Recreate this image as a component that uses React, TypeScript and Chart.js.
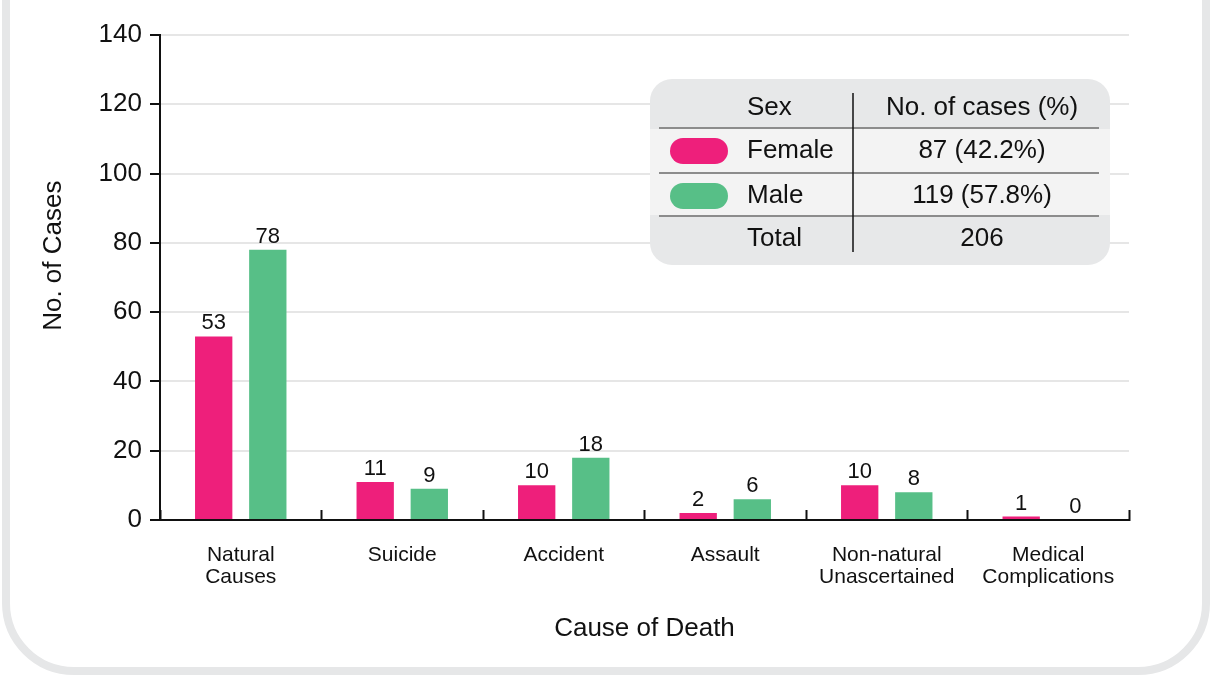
import React, { useEffect, useRef } from "react";
import { Chart, registerables } from "chart.js";

Chart.register(...registerables);

// Causes of death, cases split by sex
const categories: string[][] = [
  ["Natural", "Causes"],
  ["Suicide"],
  ["Accident"],
  ["Assault"],
  ["Non-natural", "Unascertained"],
  ["Medical", "Complications"],
];
const femaleCases = [53, 11, 10, 2, 10, 1];
const maleCases = [78, 9, 18, 6, 8, 0];
const seriesNames = ["Female", "Male"];
const seriesColors = ["#EE1F7B", "#57BF87"];
const yTickValues = [0, 20, 40, 60, 80, 100, 120, 140];

const FONT = '"Liberation Sans", Arial, Helvetica, sans-serif';
const INK = "#111111";

const sum = (a: number[]) => a.reduce((s, v) => s + v, 0);

// Numbers printed above each bar
const valueLabels = {
  id: "valueLabels",
  afterDatasetsDraw(chart: any) {
    const ctx = chart.ctx;
    ctx.save();
    ctx.font = `22px ${FONT}`;
    ctx.fillStyle = INK;
    ctx.textAlign = "center";
    ctx.textBaseline = "bottom";
    chart.data.datasets.forEach((ds: any, i: number) => {
      const meta = chart.getDatasetMeta(i);
      meta.data.forEach((bar: any, j: number) => {
        ctx.fillText(String(ds.data[j]), bar.x, bar.y - 2);
      });
    });
    ctx.restore();
  },
};

// Rotated y-axis title
const yTitle = {
  id: "yTitle",
  afterDraw(chart: any) {
    const { ctx, chartArea } = chart;
    ctx.save();
    ctx.font = `26px ${FONT}`;
    ctx.fillStyle = INK;
    ctx.textAlign = "center";
    ctx.textBaseline = "middle";
    ctx.translate(54, chartArea.top + (chartArea.bottom - chartArea.top) * 0.455);
    ctx.rotate(-Math.PI / 2);
    ctx.fillText("No. of Cases", 0, 0);
    ctx.restore();
  },
};

function roundRect(ctx: CanvasRenderingContext2D, x: number, y: number, w: number, h: number, r: number) {
  ctx.beginPath();
  ctx.moveTo(x + r, y);
  ctx.arcTo(x + w, y, x + w, y + h, r);
  ctx.arcTo(x + w, y + h, x, y + h, r);
  ctx.arcTo(x, y + h, x, y, r);
  ctx.arcTo(x, y, x + w, y, r);
  ctx.closePath();
}

// Summary table acting as the legend
const summaryTable = {
  id: "summaryTable",
  afterDraw(chart: any) {
    const ctx: CanvasRenderingContext2D = chart.ctx;
    const f = sum(femaleCases);
    const m = sum(maleCases);
    const total = f + m;
    const pct = (v: number) => ((v / total) * 100).toFixed(1);
    const rows = [
      { name: seriesNames[0], color: seriesColors[0], text: `${f} (${pct(f)}%)`, y: 151 },
      { name: seriesNames[1], color: seriesColors[1], text: `${m} (${pct(m)}%)`, y: 196 },
    ];

    ctx.save();
    roundRect(ctx, 650, 79, 460, 186, 22);
    ctx.fillStyle = "#E7E8E9";
    ctx.fill();

    ctx.fillStyle = "#F3F3F3";
    ctx.fillRect(650, 129, 460, 86);

    ctx.strokeStyle = "#8C8C8C";
    ctx.lineWidth = 2;
    [128, 173, 216].forEach((y) => {
      ctx.beginPath();
      ctx.moveTo(659, y);
      ctx.lineTo(1099, y);
      ctx.stroke();
    });

    ctx.strokeStyle = INK;
    ctx.lineWidth = 1.5;
    ctx.beginPath();
    ctx.moveTo(853, 93);
    ctx.lineTo(853, 252);
    ctx.stroke();

    ctx.font = `26px ${FONT}`;
    ctx.fillStyle = INK;
    ctx.textBaseline = "middle";
    ctx.textAlign = "left";
    ctx.fillText("Sex", 747, 108);
    ctx.textAlign = "center";
    ctx.fillText("No. of cases (%)", 982, 108);

    rows.forEach((r) => {
      roundRect(ctx, 670, r.y - 13, 58, 26, 13);
      ctx.fillStyle = r.color;
      ctx.fill();
      ctx.fillStyle = INK;
      ctx.textAlign = "left";
      ctx.fillText(r.name, 747, r.y);
      ctx.textAlign = "center";
      ctx.fillText(r.text, 982, r.y);
    });

    ctx.textAlign = "left";
    ctx.fillText("Total", 747, 239);
    ctx.textAlign = "center";
    ctx.fillText(String(total), 982, 239);
    ctx.restore();
  },
};

export default function App() {
  const canvasRef = useRef<HTMLCanvasElement | null>(null);

  useEffect(() => {
    if (!canvasRef.current) return;
    const chart = new Chart(canvasRef.current, {
      type: "bar",
      data: {
        labels: categories,
        datasets: [
          {
            label: seriesNames[0],
            data: femaleCases,
            backgroundColor: seriesColors[0],
            categoryPercentage: 0.67,
            barPercentage: 0.69,
          },
          {
            label: seriesNames[1],
            data: maleCases,
            backgroundColor: seriesColors[1],
            categoryPercentage: 0.67,
            barPercentage: 0.69,
          },
        ],
      },
      options: {
        responsive: false,
        animation: false,
        layout: { padding: { top: 35, right: 83, bottom: 31, left: 0 } },
        plugins: {
          legend: { display: false },
          tooltip: { enabled: false },
        },
        scales: {
          x: {
            offset: true,
            grid: {
              display: true,
              offset: true,
              drawOnChartArea: false,
              drawTicks: true,
              tickLength: -10,
              tickColor: INK,
              tickWidth: 2,
            },
            border: { display: true, color: INK, width: 2 },
            ticks: {
              color: INK,
              font: { family: FONT, size: 21, lineHeight: 1.05 },
              padding: 34,
              maxRotation: 0,
              minRotation: 0,
              autoSkip: false,
            },
            title: {
              display: true,
              text: "Cause of Death",
              color: INK,
              font: { family: FONT, size: 26, lineHeight: 1.2 },
              padding: 0,
            },
            afterFit(scale: any) {
              scale.height = 124;
            },
          },
          y: {
            min: yTickValues[0],
            max: yTickValues[yTickValues.length - 1],
            afterBuildTicks(scale: any) {
              scale.ticks = yTickValues.map((v) => ({ value: v }));
            },
            grid: {
              color: "#E6E6E6",
              lineWidth: 2,
              drawTicks: true,
              tickLength: 10,
              tickColor: INK,
              tickWidth: 2,
            },
            border: { display: true, color: INK, width: 2 },
            ticks: {
              color: INK,
              font: { family: FONT, size: 26 },
              padding: 8,
            },
            title: { display: false },
            afterFit(scale: any) {
              scale.width = 160;
            },
          },
        },
      },
      plugins: [valueLabels, yTitle, summaryTable],
    });
    return () => chart.destroy();
  }, []);

  return (
    <div
      style={{
        position: "fixed",
        left: 0,
        top: 0,
        width: 1212,
        height: 675,
        overflow: "hidden",
        background: "#ffffff",
      }}
    >
      <div
        style={{
          position: "absolute",
          left: 2,
          top: -200,
          width: 1208,
          height: 875,
          boxSizing: "border-box",
          border: "8px solid #E6E7E8",
          borderRadius: 72,
        }}
      />
      <canvas
        ref={canvasRef}
        width={1212}
        height={675}
        style={{ position: "absolute", left: 0, top: 0, width: 1212, height: 675 }}
      />
    </div>
  );
}
